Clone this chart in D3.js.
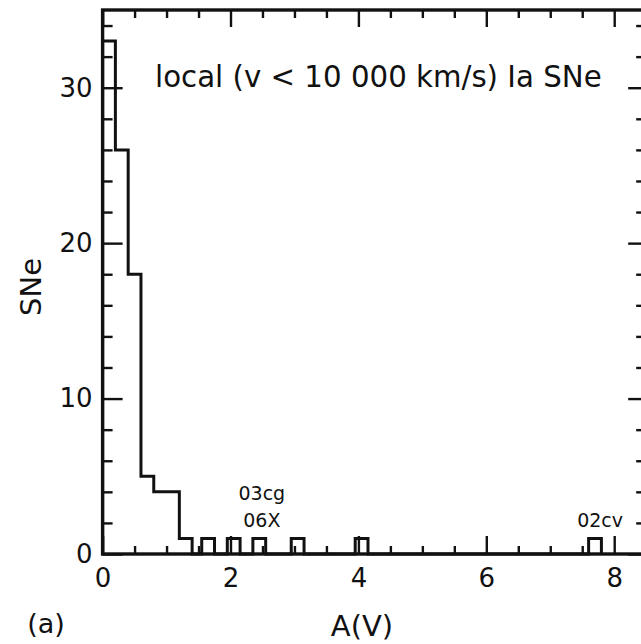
<!DOCTYPE html>
<html>
<head>
<meta charset="utf-8">
<script src="https://cdn.jsdelivr.net/npm/d3@7"></script>
<style>
  body { margin: 0; background: #fff; }
  svg { display: block; }
  text { font-family: "DejaVu Sans", sans-serif; fill: #111; }
</style>
</head>
<body>
<div id="chart"></div>
<script>
// histogram of A(V): bin edges and number of SNe in each bin
const binEdges = [0, 0.2, 0.4, 0.6, 0.8, 1.2, 1.4, 1.55, 1.75, 1.95, 2.15, 2.35, 2.55, 2.95, 3.15, 3.95, 4.15, 7.6, 7.8];
const binCounts = [33, 26, 18, 5, 4, 1, 0, 1, 0, 1, 0, 1, 0, 1, 0, 1, 0, 1];

// axis ticks
const xTicks = [0, 2, 4, 6, 8];
const xMinor = d3.range(0.5, 8.5, 0.5).filter(v => v % 2 !== 0);
const yTicks = [0, 10, 20, 30];
const yMinor = d3.range(2, 36, 2).filter(v => v % 10 !== 0);

// names of the extreme objects, placed at (A(V), SNe)
const snNames = ["03cg", "06X", "02cv"];
const snAV = [2.49, 2.49, 7.78];
const snN = [3.45, 1.72, 1.76];

const title = "local (v < 10 000 km/s) Ia SNe";

const width = 641, height = 644;

const svg = d3.select('#chart')
    .append('svg')
    .attr('width', width)
    .attr('height', height);

const x = d3.scaleLinear().domain([0, 8.5]).range([102.6, 102.6 + 8.5 * 63.95]);
const y = d3.scaleLinear().domain([0, 35]).range([554, 10]);

// histogram as a step line
const pts = [[0, 0]];
binCounts.forEach((c, i) => pts.push([binEdges[i], c]));
pts.push([binEdges[binEdges.length - 1], 0]);

const line = d3.line()
    .x(d => x(d[0]))
    .y(d => y(d[1]))
    .curve(d3.curveStepAfter);

svg.append('path')
    .datum(pts)
    .attr('fill', 'none')
    .attr('stroke', '#111')
    .attr('stroke-width', 3)
    .attr('d', line);

// ticks, all pointing inward
function tickAxis(axis, tr, size, values, labels) {
    const g = svg.append('g')
        .attr('transform', tr)
        .call(axis.tickValues(values).tickSize(-size).tickPadding(labels ? 12 : 0)
            .tickFormat(labels ? d3.format('d') : ''));
    g.select('.domain').remove();
    g.selectAll('line').attr('stroke', '#111').attr('stroke-width', 2.4);
    g.selectAll('text').attr('font-size', 26).attr('fill', '#111');
    return g;
}

const x0 = x(0), x1 = x(8.5), y0 = y(0), y1 = y(35);

tickAxis(d3.axisBottom(x), `translate(0,${y0})`, 18, xTicks, true)
    .selectAll('text').attr('dy', '0.71em').attr('y', 15);
tickAxis(d3.axisBottom(x), `translate(0,${y0})`, 8, xMinor, false);
tickAxis(d3.axisTop(x), `translate(0,${y1})`, 17, xTicks, false);
tickAxis(d3.axisTop(x), `translate(0,${y1})`, 8, xMinor, false);

tickAxis(d3.axisLeft(y), `translate(${x0},0)`, 20, yTicks, true)
    .selectAll('text').attr('x', -10);
tickAxis(d3.axisLeft(y), `translate(${x0},0)`, 10, yMinor, false);
tickAxis(d3.axisRight(y), `translate(${x1},0)`, 18, yTicks, false);
tickAxis(d3.axisRight(y), `translate(${x1},0)`, 10, yMinor, false);

// frame
svg.append('rect')
    .attr('x', x0).attr('y', y1)
    .attr('width', x1 - x0).attr('height', y0 - y1)
    .attr('fill', 'none')
    .attr('stroke', '#111')
    .attr('stroke-width', 3.4);

// title, sized to span its place in the panel
const t = svg.append('text')
    .attr('x', 155)
    .attr('y', 87)
    .attr('font-size', 100)
    .text(title);
const w = t.node().getComputedTextLength();
t.attr('font-size', 100 * 447 / w);

// SN names
snNames.forEach((name, i) => {
    svg.append('text')
        .attr('x', x(snAV[i]))
        .attr('y', y(snN[i]))
        .attr('text-anchor', 'middle')
        .attr('font-size', 19)
        .text(name);
});

// axis titles
svg.append('text')
    .attr('x', 362)
    .attr('y', 636)
    .attr('text-anchor', 'middle')
    .attr('font-size', 29)
    .text('A(V)');

svg.append('text')
    .attr('transform', 'translate(41,287) rotate(-90)')
    .attr('text-anchor', 'middle')
    .attr('font-size', 29)
    .text('SNe');

svg.append('text')
    .attr('x', 46)
    .attr('y', 633)
    .attr('text-anchor', 'middle')
    .attr('font-size', 27)
    .text('(a)');
</script>
</body>
</html>
